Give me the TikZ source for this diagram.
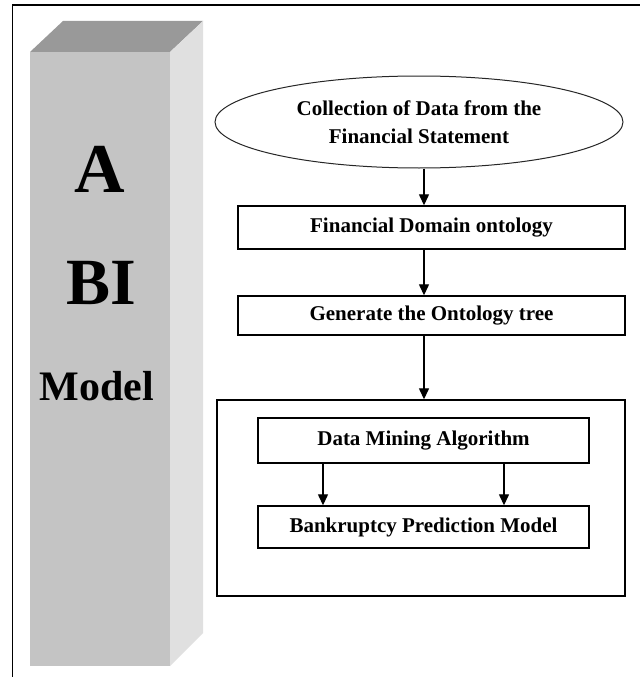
\documentclass[tikz,border=0pt]{standalone}
\usepackage{fontspec}
\setmainfont{Liberation Serif}
\usetikzlibrary{shapes.geometric,arrows.meta}
\tikzset{
  stepbox/.style={draw=black, line width=1.4pt, fill=white, rectangle, inner sep=0pt, font=\fontsize{21}{24}\selectfont\bfseries, align=center},
  startell/.style={draw=black!85, line width=1pt, fill=white, ellipse, inner sep=0pt, font=\fontsize{21}{28}\selectfont\bfseries, align=center},
  arr/.style={draw=black, line width=1.3pt, -{Triangle[width=10pt,length=11pt]}},
  bigletter/.style={font=\bfseries, anchor=base, inner sep=0pt}
}
\begin{document}
\begin{tikzpicture}[x=1pt,y=-1pt]
\useasboundingbox (0,0) rectangle (640,677);
\fill[white] (0,0) rectangle (640,677);
% outer frame
\draw[line width=1.5pt] (12.5,677) -- (12.5,5) -- (640,5);
% 3D column
\fill[black!23!white] (30,52) -- (170,52) -- (170,666) -- (30,666) -- cycle;
\fill[black!40!white] (30,52) -- (63,21) -- (203,21) -- (170,52) -- cycle;
\fill[black!12!white] (170,52) -- (203,21) -- (203,633) -- (170,666) -- cycle;
\node[bigletter, font=\fontsize{70}{70}\selectfont\bfseries] (tA) at (100,192) {A};
\node[bigletter, font=\fontsize{66}{66}\selectfont\bfseries] (tBI) at (101.5,304) {BI};
\node[bigletter, font=\fontsize{42}{42}\selectfont\bfseries] (tM) at (97,400) {Model};
% flow
\node[startell, minimum width=408pt, minimum height=92pt] (ell) at (419,122) {Collection of Data from the\\Financial Statement};
\node[stepbox, minimum width=387pt, minimum height=43pt] (b1) at (431.5,227.5) {Financial Domain ontology};
\node[stepbox, minimum width=387pt, minimum height=39pt] (b2) at (431.5,315.5) {Generate the Ontology tree};
\node[draw=black, line width=1.4pt, rectangle, minimum width=408pt, minimum height=196pt, inner sep=0pt] (cont) at (421,498) {};
\node[stepbox, minimum width=331pt, minimum height=45pt] (dma) at (423.5,440.5) {Data Mining Algorithm};
\node[stepbox, minimum width=331pt, minimum height=42pt] (bpm) at (423.5,527) {Bankruptcy Prediction Model};
\draw[arr] ([xshift=5pt]ell.south) -- ([xshift=5pt]ell.south |- b1.north);
\draw[arr] ([xshift=-7.5pt]b1.south) -- ([xshift=-7.5pt]b1.south |- b2.north);
\draw[arr] ([xshift=-7.5pt]b2.south) -- ([xshift=-7.5pt]b2.south |- cont.north);
\draw[arr] ([xshift=-100.5pt]dma.south) -- ([xshift=-100.5pt]dma.south |- bpm.north);
\draw[arr] ([xshift=80.5pt]dma.south) -- ([xshift=80.5pt]dma.south |- bpm.north);
\end{tikzpicture}
\end{document}
